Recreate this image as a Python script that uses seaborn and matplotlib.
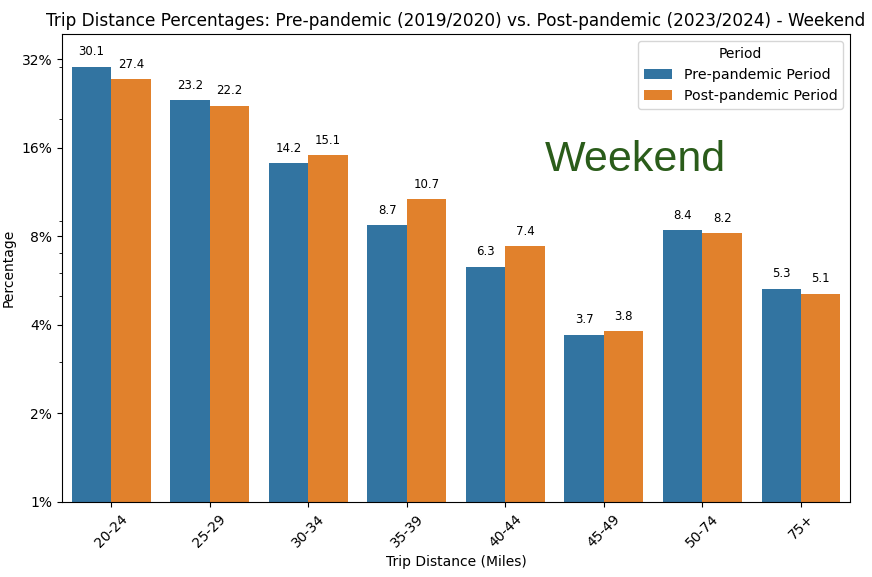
import matplotlib
matplotlib.use("Agg")
import matplotlib.pyplot as plt
import seaborn as sns
import pandas as pd
from matplotlib.ticker import NullFormatter

categories = ["20-24", "25-29", "30-34", "35-39", "40-44", "45-49", "50-74", "75+"]
pre_values = [30.1, 23.2, 14.2, 8.7, 6.3, 3.7, 8.4, 5.3]
post_values = [27.4, 22.2, 15.1, 10.7, 7.4, 3.8, 8.2, 5.1]
periods = ["Pre-pandemic Period", "Post-pandemic Period"]
ytick_values = [1, 2, 4, 8, 16, 32]
ytick_labels = ["1%", "2%", "4%", "8%", "16%", "32%"]

df = pd.DataFrame({
    "Trip Distance": categories * 2,
    "Percentage": pre_values + post_values,
    "Period": [periods[0]] * len(categories) + [periods[1]] * len(categories),
})

fig, ax = plt.subplots(figsize=(8.72, 5.77), dpi=100)
fig.subplots_adjust(left=0.071, right=0.975, top=0.941, bottom=0.130)

sns.barplot(data=df, x="Trip Distance", y="Percentage", hue="Period", ax=ax)

ax.set_yscale("log")
ax.set_ylim(1, 38.9)
ax.set_yticks(ytick_values)
ax.set_yticklabels(ytick_labels)
ax.yaxis.set_minor_formatter(NullFormatter())

for container in ax.containers:
    ax.bar_label(container, fmt="%.1f", padding=6, fontsize=8.5)

ax.set_title("Trip Distance Percentages: Pre-pandemic (2019/2020) vs. Post-pandemic (2023/2024) - Weekend", fontsize=12.2)
ax.set_xlabel("Trip Distance (Miles)")
ax.set_ylabel("Percentage")
plt.setp(ax.get_xticklabels(), rotation=45)

ax.legend(title="Period", loc="upper right", fontsize=10.2)
ax.text(0.727, 0.730, "Weekend", transform=ax.transAxes, fontsize=31,
        color="#2a5c1a", ha="center", va="center", family="Liberation Sans")

fig.savefig("out.png", dpi=100)
